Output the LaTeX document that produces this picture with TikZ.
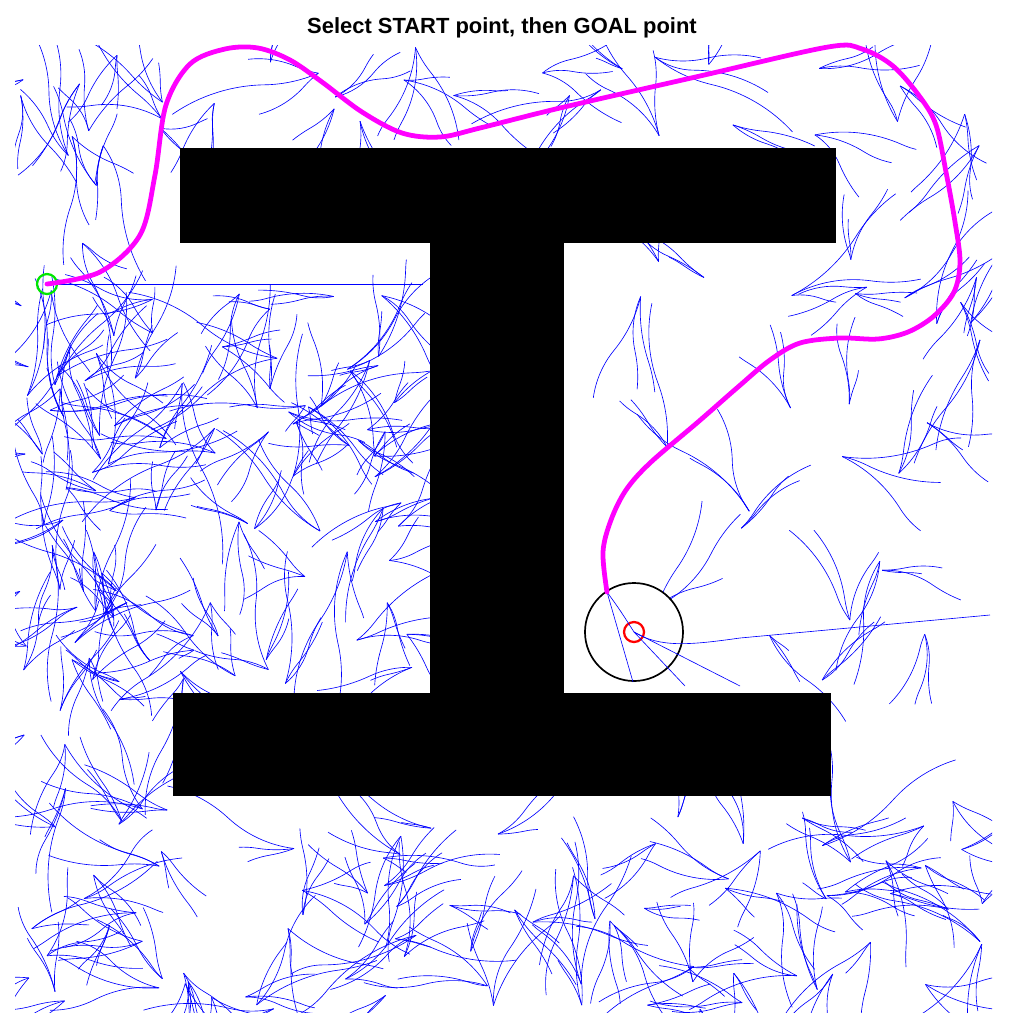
\documentclass[tikz,border=0pt]{standalone}
\usepackage{fontspec}
\setmainfont{Liberation Sans}
\usetikzlibrary{positioning, calc}
\definecolor{treeblue}{RGB}{0, 0, 255}
\definecolor{pathpink}{RGB}{255, 0, 255}
\definecolor{startgreen}{RGB}{0, 230, 0}
\definecolor{goalred}{RGB}{255, 0, 0}

% one patch of random tree: count, xmin, ymin, width, height
\newcommand{\growtree}[5]{%
  \foreach \k in {1,...,#1}{
    \pgfmathsetmacro\px{#2+#4*rnd}
    \pgfmathsetmacro\py{#3+#5*rnd}
    \pgfmathsetmacro\hd{360*rnd}
    \foreach \j in {1,2,3}{
      \pgfmathsetmacro\tg{\hd+60*rnd-30}
      \pgfmathsetmacro\sg{rnd<0.5 ? -1 : 1}
      \pgfmathsetmacro\da{\sg*(8+30*rnd)}
      \pgfmathsetmacro\db{-\sg*(5+30*rnd)}
      \pgfmathsetmacro\sa{\tg-\sg*90}
      \pgfmathsetmacro\sb{\sa+\da+180}
      \pgfmathsetmacro\ra{60+110*rnd}
      \pgfmathsetmacro\rb{60+110*rnd}
      \draw[branch] (\px,\py) arc[start angle=\sa, delta angle=\da, radius=\ra]
                              arc[start angle=\sb, delta angle=\db, radius=\rb];
    }
  }%
}

\begin{document}
\begin{tikzpicture}[x=0.025cm, y=-0.025cm,
    branch/.style={draw=treeblue, line width=0.45pt},
    block/.style={fill=black},
    route/.style={draw=pathpink, line width=3.4pt, line cap=round, line join=round},
    marker/.style={circle, draw, line width=1.6pt, minimum size=0.5cm, inner sep=0pt}]
    \useasboundingbox (0,0) rectangle (1025,1034);
    \node (title) at (502,28) {\fontsize{15.6pt}{18pt}\selectfont\bfseries Select START point, then GOAL point};

    % random tree
    \pgfmathsetseed{4217}
    \begin{scope}
        \clip (15,45) rectangle (992,1012);
        \growtree{90}{20}{290}{400}{400}
        \growtree{36}{15}{60}{160}{950}
        \growtree{26}{15}{45}{975}{95}
        \growtree{15}{575}{250}{410}{280}
        \growtree{5}{575}{530}{410}{160}
        \growtree{16}{845}{45}{145}{960}
        \growtree{82}{15}{805}{975}{205}
        \draw[branch] (47,284) -- (423,284);
    \end{scope}

    % obstacle
    \fill[block] (180,148) rectangle (836,243);
    \fill[block] (430,243) rectangle (564,693);
    \fill[block] (173,693) rectangle (831,796);

    % start and goal
    \node[marker, draw=startgreen] (start) at (47,284) {};
    \node[circle, draw=black, fill=white, line width=1.2pt, minimum size=2.45cm, inner sep=0pt] (goalzone) at (634,632) {};
    \node[marker, draw=goalred] (goal) at (634,632) {};
    \coordinate (pathend) at (607,592);

    % branches near the goal
    \draw[branch] (pathend) .. controls (620,610) .. (goal.center);
    \draw[branch] (pathend) -- (633,682);
    \draw[branch] (goal.center) .. controls (660,648) and (690,645) .. (740,638) -- (990,615);
    \draw[branch] (goal.center) -- (740,686);
    \draw[branch] (goal.center) -- (685,686);

    % path from start to goal
    \draw[route] (start.center) plot[smooth, tension=0.55] coordinates {
        (47,284) (100,272) (140,235) (155,175) (166,105) (190,64) (225,49) (258,48)
        (290,60) (322,82) (362,112) (402,133) (440,137) (480,128) (560,108)
        (700,76) (828,47) (862,49) (893,66) (920,97) (936,125) (946,172)
        (955,222) (960,262) (954,292) (934,316) (908,332) (878,339) (840,338)
        (800,343) (770,360) (738,387) (698,422) (650,463) (626,490) (611,520)
        (603,552) (607,592)} -- (pathend);
\end{tikzpicture}
\end{document}
